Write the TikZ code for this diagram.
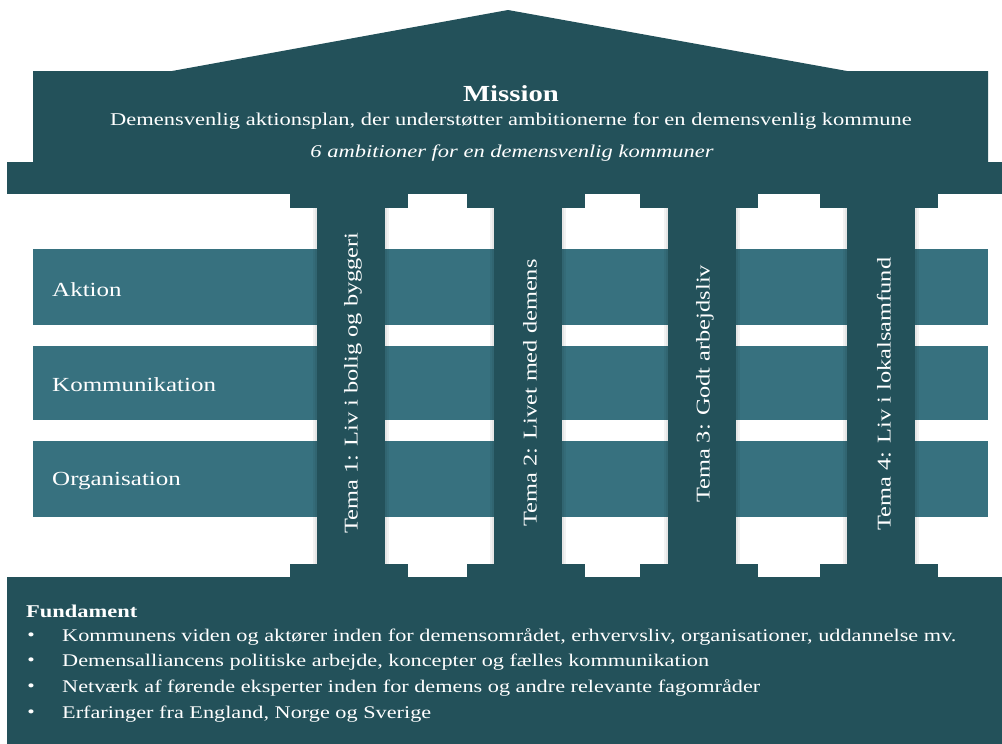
\documentclass[tikz,border=0pt]{standalone}
\usepackage{fontspec}
\setmainfont[FakeStretch=1.25]{Liberation Serif}
\definecolor{dark}{HTML}{23515A}
\definecolor{band}{HTML}{37717F}
\begin{document}
\begin{tikzpicture}[x=1pt,y=-1pt,
  txt/.style={text=white,inner sep=0pt},
  bandbox/.style={fill=band},
  darkbox/.style={fill=dark},
  vlabel/.style={txt,rotate=90,font=\fontsize{19.5}{22}\selectfont},
  rowlabel/.style={txt,anchor=west,font=\fontsize{20}{22}\selectfont},
  bullet/.style={txt,anchor=west,font=\fontsize{17.8}{19}\selectfont}]
\useasboundingbox (0,0) rectangle (1002,744);
% roof
\fill[darkbox] (33,162) -- (33,71) -- (172,71) -- (508,10) -- (847,71) -- (988,71) -- (988,162) -- cycle;
\fill[darkbox] (7,162) rectangle (1002,194);
% bands
\fill[bandbox] (33,249) rectangle (988,325);
\fill[bandbox] (33,346) rectangle (988,420);
\fill[bandbox] (33,441) rectangle (988,517);
% columns
\foreach \a/\b/\c/\d in {290/408/317/385, 467/585/494/562, 640/758/668/736, 820/938/847/915}{
  \fill[black,opacity=0.05] (\c-4,208) rectangle (\d+4,564);
  \fill[black,opacity=0.05] (\c-2,208) rectangle (\d+2,564);
  \fill[darkbox] (\a,194) rectangle (\b,208);
  \fill[darkbox] (\c,208) rectangle (\d,564);
  \fill[darkbox] (\a,564) rectangle (\b,578);
}
% base
\fill[darkbox] (7,577) rectangle (1002,744);
% texts
\node[txt,font=\fontsize{23}{26}\selectfont\bfseries] (mission) at (511,94) {Mission};
\node[txt,font=\fontsize{18}{20}\selectfont] (sub) at (511,121) {Demensvenlig aktionsplan, der understøtter ambitionerne for en demensvenlig kommune};
\node[txt,font=\fontsize{18}{20}\selectfont\itshape] (amb) at (512,153) {6 ambitioner for en demensvenlig kommuner};
\node[rowlabel] (aktion) at (52,290) {Aktion};
\node[rowlabel] (komm) at (52,385) {Kommunikation};
\node[rowlabel] (org) at (52,481) {Organisation};
\node[vlabel] (t1) at (353,383) {Tema 1: Liv i bolig og byggeri};
\node[vlabel] (t2) at (530,393) {Tema 2: Livet med demens};
\node[vlabel] (t3) at (705,384) {Tema 3: Godt arbejdsliv};
\node[vlabel] (t4) at (884,394) {Tema 4: Liv i lokalsamfund};
\node[txt,anchor=west,font=\fontsize{18}{20}\selectfont\bfseries] (fund) at (26,611) {Fundament};
\foreach \y/\t [count=\i] in {637/{Kommunens viden og aktører inden for demensområdet, erhvervsliv, organisationer, uddannelse mv.},
  662/{Demensalliancens politiske arbejde, koncepter og fælles kommunikation},
  688/{Netværk af førende eksperter inden for demens og andre relevante fagområder},
  714/{Erfaringer fra England, Norge og Sverige}}{
  \node[txt,font=\fontsize{17}{19}\selectfont] (dot\i) at (31,\y) {•};
  \node[bullet] (b\i) at (62,\y) {\t};
}
\end{tikzpicture}
\end{document}
